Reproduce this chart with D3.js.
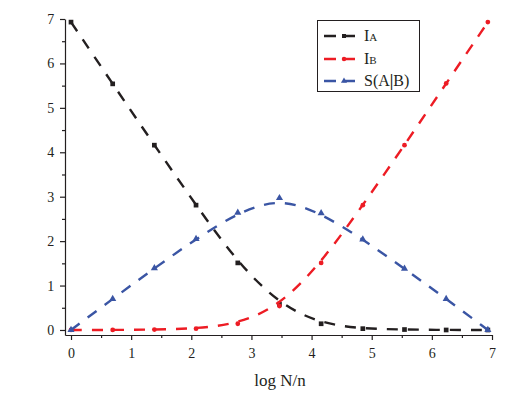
<!DOCTYPE html>
<html>
<head>
<meta charset="utf-8">
<script src="https://cdn.jsdelivr.net/npm/d3@7/dist/d3.min.js"></script>
<style>
  body { margin: 0; background: #fff; }
</style>
</head>
<body>
<div id="chart"></div>
<script>
// x positions: k * ln2
var xValues = [0, 0.693, 1.386, 2.079, 2.773, 3.466, 4.159, 4.852, 5.545, 6.238, 6.931];
var iaValues = [6.93, 5.54, 4.16, 2.81, 1.51, 0.58, 0.14, 0.03, 0.01, 0.0, 0.0];
var ibValues = [0.0, 0.0, 0.01, 0.03, 0.14, 0.54, 1.51, 2.81, 4.16, 5.55, 6.93];
var sValues  = [0.0, 0.70, 1.39, 2.05, 2.64, 2.97, 2.63, 2.04, 1.38, 0.70, 0.0];
var xTicks = [0, 1, 2, 3, 4, 5, 6, 7];
var yTicks = [0, 1, 2, 3, 4, 5, 6, 7];

var width = 522, height = 394;
var serif = "Liberation Serif";

var colors = { ia: "#231f20", ib: "#ed1c24", s: "#3a55a4" };

var svg = d3.select("#chart")
    .append("svg")
    .attr("width", width)
    .attr("height", height);

var x = d3.scaleLinear().domain([-0.1, 7]).range([65, 492]);
var y = d3.scaleLinear().domain([-0.113, 7]).range([335, 19]);

// axes
var xAxis = svg.append("g")
    .attr("transform", "translate(0,335)")
    .call(d3.axisBottom(x).tickValues(xTicks).tickSize(5).tickSizeOuter(0).tickFormat(d3.format("d")));
var yAxis = svg.append("g")
    .attr("transform", "translate(65,0)")
    .call(d3.axisLeft(y).tickValues(yTicks).tickSize(5).tickSizeOuter(0).tickFormat(d3.format("d")));

// minor ticks
svg.append("g")
    .attr("transform", "translate(0,335)")
    .call(d3.axisBottom(x).tickValues(d3.range(0.5, 7, 1)).tickSize(3).tickSizeOuter(0).tickFormat(""))
    .select(".domain").remove();
svg.append("g")
    .attr("transform", "translate(65,0)")
    .call(d3.axisLeft(y).tickValues(d3.range(0.5, 7, 1)).tickSize(3).tickSizeOuter(0).tickFormat(""))
    .select(".domain").remove();

svg.selectAll(".domain, .tick line").attr("stroke", "#231f20").attr("stroke-width", 1.2);
svg.selectAll(".tick text")
    .attr("font-family", serif)
    .attr("font-size", 14)
    .attr("fill", "#231f20");
xAxis.selectAll(".tick text").attr("dy", "1.05em");
yAxis.selectAll(".tick text").attr("dx", "-0.2em");

// x label
svg.append("text")
    .attr("x", 280)
    .attr("y", 386)
    .attr("text-anchor", "middle")
    .attr("font-family", serif)
    .attr("font-size", 17)
    .attr("fill", "#231f20")
    .text("log N/n");

var line = d3.line()
    .x(function(d) { return x(d[0]); })
    .y(function(d) { return y(d[1]); })
    .curve(d3.curveBasis);

var series = [
    { key: "ia", values: iaValues, symbol: d3.symbolSquare },
    { key: "ib", values: ibValues, symbol: d3.symbolCircle },
    { key: "s",  values: sValues,  symbol: d3.symbolTriangle }
];

series.forEach(function(s) {
    var pts = xValues.map(function(v, i) { return [v, s.values[i]]; });
    svg.append("path")
        .datum(pts)
        .attr("d", line)
        .attr("fill", "none")
        .attr("stroke", colors[s.key])
        .attr("stroke-width", 2.4)
        .attr("stroke-dasharray", "11,10");
    svg.append("g")
        .selectAll("path")
        .data(pts)
        .enter()
        .append("path")
        .attr("transform", function(d) { return "translate(" + x(d[0]) + "," + y(d[1]) + ")"; })
        .attr("d", d3.symbol().type(s.symbol).size(s.key == "ib" ? 18 : 22))
        .attr("fill", colors[s.key]);
});

// legend
var legend = svg.append("g");
legend.append("rect")
    .attr("x", 317.5).attr("y", 20.5)
    .attr("width", 102).attr("height", 71)
    .attr("fill", "#fff")
    .attr("stroke", "#231f20")
    .attr("stroke-width", 1);

var legendRows = [
    { key: "ia", y: 36, symbol: d3.symbolSquare },
    { key: "ib", y: 59, symbol: d3.symbolCircle },
    { key: "s",  y: 81, symbol: d3.symbolTriangle }
];
legendRows.forEach(function(r) {
    legend.append("line")
        .attr("x1", 324).attr("x2", 356)
        .attr("y1", r.y).attr("y2", r.y)
        .attr("stroke", colors[r.key])
        .attr("stroke-width", 2.6)
        .attr("stroke-dasharray", "12,7");
    legend.append("path")
        .attr("transform", "translate(344," + r.y + ")")
        .attr("d", d3.symbol().type(r.symbol).size(16))
        .attr("fill", colors[r.key]);
});

var t1 = legend.append("text").attr("x", 364).attr("y", 41).attr("font-family", serif).attr("font-size", 16).attr("fill", "#231f20");
t1.append("tspan").text("I");
t1.append("tspan").attr("font-size", 11).text("A");
var t2 = legend.append("text").attr("x", 364).attr("y", 64).attr("font-family", serif).attr("font-size", 16).attr("fill", "#231f20");
t2.append("tspan").text("I");
t2.append("tspan").attr("font-size", 11).text("B");
var t3 = legend.append("text").attr("x", 364).attr("y", 86).attr("font-family", serif).attr("font-size", 16).attr("fill", "#231f20");
t3.append("tspan").text("S(A");
t3.append("tspan").attr("font-weight", "bold").text("|");
t3.append("tspan").text("B)");
</script>
</body>
</html>
